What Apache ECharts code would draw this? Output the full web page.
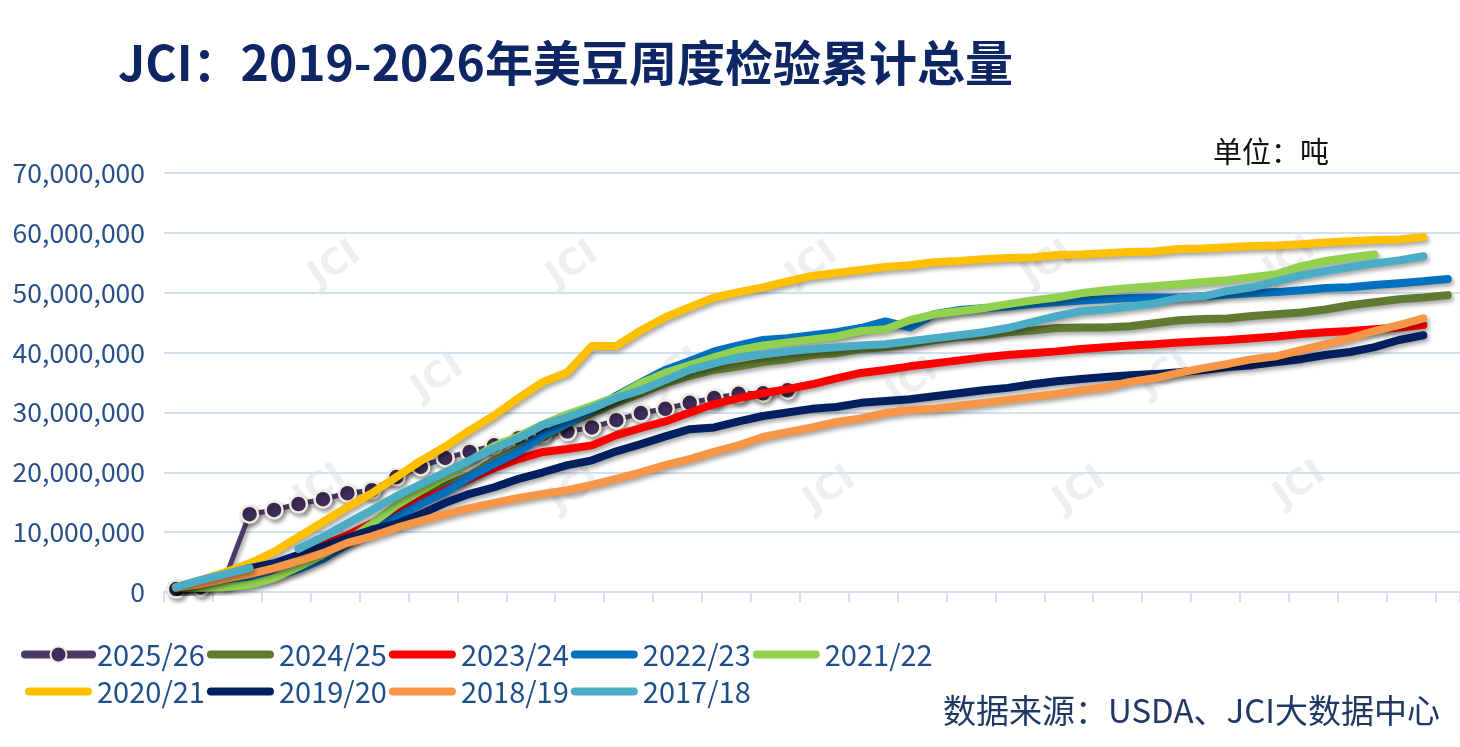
<!DOCTYPE html>
<html>
<head>
<meta charset="utf-8">
<script src="https://cdn.jsdelivr.net/npm/echarts@6/dist/echarts.min.js"></script>
<style>
html,body{margin:0;padding:0;background:#fff;}
#chart{width:1460px;height:747px;}
</style>
</head>
<body>
<div id="chart"></div>
<script>
// Week categories (marketing-year weeks)
const weeks = ['W1','W2','W3','W4','W5','W6','W7','W8','W9','W10','W11','W12','W13','W14','W15','W16','W17','W18','W19','W20','W21','W22','W23','W24','W25','W26','W27','W28','W29','W30','W31','W32','W33','W34','W35','W36','W37','W38','W39','W40','W41','W42','W43','W44','W45','W46','W47','W48','W49','W50','W51','W52','W53'];

// Cumulative inspections, million tonnes
const y2526 = [0.5,0.8,2.3,13.0,13.7,14.7,15.5,16.5,17.0,19.2,20.9,22.4,23.4,24.5,25.7,26.4,26.8,27.5,28.7,29.9,30.6,31.6,32.4,33.1,33.2,33.7,null,null,null,null,null,null,null,null,null,null,null,null,null,null,null,null,null,null,null,null,null,null,null,null,null,null,null];
const y2425 = [0.7,1.2,1.8,2.8,4.0,5.5,7.5,9.2,11.4,13.7,15.7,17.7,19.5,22.0,24.0,25.9,28.2,29.9,31.6,33.2,34.9,36.1,37.1,37.7,38.4,38.9,39.6,39.9,40.6,40.9,41.4,42.1,42.6,42.9,43.4,43.7,44.1,44.2,44.2,44.4,44.9,45.4,45.6,45.7,46.1,46.4,46.7,47.2,47.9,48.4,48.9,49.2,49.6];
const y2324 = [0.7,1.3,2.0,2.5,3.8,5.9,7.8,9.5,11.5,13.5,15.4,17.0,18.9,20.7,22.2,23.4,23.9,24.5,26.2,27.4,28.5,30.0,31.4,32.4,33.2,33.9,34.7,35.7,36.6,37.1,37.7,38.2,38.7,39.2,39.6,39.9,40.2,40.6,40.9,41.2,41.4,41.7,41.9,42.1,42.4,42.7,43.1,43.4,43.6,43.9,44.2,44.6,null];
const y2223 = [0.7,0.8,1.0,1.7,2.5,3.8,5.5,8.0,10.5,12.5,14.7,16.7,19.2,21.4,23.4,26.2,28.2,30.4,32.8,35.0,37.1,38.6,40.2,41.2,42.1,42.4,42.9,43.4,44.1,45.2,44.2,46.4,47.1,47.4,47.7,48.1,48.4,48.7,48.9,49.1,49.2,49.2,49.4,49.7,49.9,50.1,50.4,50.8,50.9,51.3,51.6,51.9,52.3];
const y2122 = [0.7,0.7,0.8,1.2,2.3,4.2,6.2,8.5,11.4,14.5,16.9,19.2,21.9,24.4,26.0,28.0,29.7,31.1,32.6,34.9,36.6,37.9,39.2,40.4,41.2,41.7,42.2,42.7,43.6,43.9,45.4,46.4,46.9,47.4,48.1,48.7,49.2,49.9,50.4,50.8,51.1,51.4,51.8,52.1,52.6,53.1,54.4,55.3,55.9,56.4,null,null,null];
const y2021 = [0.8,2.0,3.3,4.8,6.7,9.2,11.7,14.2,16.5,19.2,21.9,24.3,27.0,29.5,32.4,35.1,36.7,41.1,41.1,43.7,45.9,47.6,49.2,50.1,50.9,51.9,52.8,53.3,53.8,54.3,54.6,55.1,55.3,55.6,55.8,55.9,56.3,56.4,56.6,56.8,56.9,57.3,57.4,57.6,57.8,57.9,58.1,58.4,58.6,58.8,58.9,59.3,null];
const y1920 = [0.5,1.7,2.8,4.0,4.8,6.2,7.5,9.0,10.4,11.4,13.0,14.9,16.4,17.5,18.9,20.0,21.2,22.0,23.5,24.7,26.0,27.2,27.5,28.5,29.4,30.0,30.6,30.9,31.6,31.9,32.2,32.7,33.2,33.7,34.1,34.7,35.2,35.6,35.9,36.2,36.4,36.7,37.1,37.6,37.9,38.4,38.9,39.6,40.1,40.9,42.1,42.9,null];
const y1819 = [0.7,1.3,2.2,3.0,4.0,5.2,6.5,8.2,9.3,10.7,11.9,13.0,14.0,14.9,15.7,16.4,17.0,17.9,18.9,20.0,21.2,22.2,23.4,24.5,25.9,26.7,27.5,28.4,29.0,29.9,30.4,30.6,31.1,31.6,32.1,32.6,33.1,33.7,34.2,35.1,35.7,36.6,37.4,38.1,38.9,39.4,40.4,41.4,42.4,43.6,44.6,45.7,null];
const y1718 = [0.8,2.0,3.0,4.0,null,7.2,9.2,11.5,13.7,16.0,18.0,20.0,22.0,24.0,25.7,27.9,29.2,30.7,32.4,33.7,35.4,37.1,38.2,39.2,39.7,40.2,40.6,40.9,41.2,41.4,41.9,42.4,42.9,43.4,44.1,45.1,46.1,46.9,47.2,47.7,48.2,49.1,49.4,50.3,50.9,51.9,52.9,53.6,54.3,54.9,55.4,56.1,null];

// Y-axis ticks (million tonnes)
const yTicks = [0,10,20,30,40,50,60,70];

const seriesNames = ['2025/26','2024/25','2023/24','2022/23','2021/22','2020/21','2019/20','2018/19','2017/18'];
const seriesData = [y2526,y2425,y2324,y2223,y2122,y2021,y1920,y1819,y1718];
const seriesColors = ['#4B3A63','#617A31','#FF0000','#0070C0','#92D050','#FFC000','#002060','#F79646','#4BACC6'];

const FONT = '"Noto Sans CJK SC", "Noto Sans", sans-serif';
const SHADOW = { shadowColor: 'rgba(0,0,0,0.35)', shadowBlur: 4, shadowOffsetX: 2, shadowOffsetY: 3 };

const series = seriesNames.map((name, i) => {
  const isCur = i === 0;
  return {
    name: name,
    type: 'line',
    data: seriesData[i],
    connectNulls: false,
    smooth: false,
    symbol: isCur ? 'circle' : 'none',
    showSymbol: isCur,
    showAllSymbol: true,
    symbolSize: 17,
    lineStyle: Object.assign({
      color: seriesColors[i],
      width: isCur ? 5 : 8,
      cap: 'round',
      join: 'round'
    }, SHADOW),
    itemStyle: isCur ? Object.assign({
      color: '#3F2D5C',
      borderColor: '#EEEBDF',
      borderWidth: 2.5
    }, SHADOW) : { color: seriesColors[i] },
    emphasis: { disabled: true },
    z: 2 + i
  };
});

// Legend entries: current season shows line + marker, others a thick rounded bar
const BAR_ICON = 'path://M4,0 H63 A4,4 0 0 1 63,8 H4 A4,4 0 0 1 4,0 Z';
const legendData = seriesNames.map((name, i) => i === 0 ? {
  name: name,
  lineStyle: { width: 8, color: seriesColors[i], cap: 'round', shadowBlur: 0, shadowOffsetX: 0, shadowOffsetY: 0 },
  itemStyle: { color: '#3F2D5C', borderColor: '#EEEBDF', borderWidth: 2, shadowBlur: 0, shadowOffsetX: 0, shadowOffsetY: 0 }
} : {
  name: name,
  icon: BAR_ICON,
  itemStyle: { color: seriesColors[i], borderWidth: 0, shadowBlur: 0, shadowOffsetX: 0, shadowOffsetY: 0 }
});

const wmPositions = [
  [335,265],[573,265],[812,265],[1048,265],[1290,260],
  [438,378],[677,372],[913,382],[1165,375],
  [320,488],[575,490],[830,490],[1080,490],[1300,485]
];
const watermarks = wmPositions.map(p => ({
  type: 'text',
  x: p[0], y: p[1],
  rotation: 0.6,
  z: -10,
  silent: true,
  style: {
    text: 'JCI',
    align: 'center',
    verticalAlign: 'middle',
    font: 'bold 36px "DejaVu Sans", sans-serif',
    fill: 'rgba(160,160,160,0.18)'
  }
}));

const chart = echarts.init(document.getElementById('chart'), null, {renderer: 'canvas'});
chart.setOption({
  animation: false,
  backgroundColor: '#ffffff',
  grid: { left: 164, top: 173, width: 1299.6, bottom: 155, containLabel: false },
  xAxis: {
    type: 'category',
    data: weeks,
    boundaryGap: true,
    axisLine: { show: true, lineStyle: { color: '#D3E0F1', width: 2 } },
    axisTick: { show: true, length: 10, lineStyle: { color: '#D3E0F1', width: 2 } },
    axisLabel: { show: false },
    splitLine: { show: false }
  },
  yAxis: {
    type: 'value',
    min: yTicks[0],
    max: yTicks[yTicks.length - 1],
    interval: yTicks[1] - yTicks[0],
    axisLine: { show: false },
    axisTick: { show: false },
    axisLabel: {
      margin: 19,
      color: '#29508A',
      fontFamily: FONT,
      fontSize: 26.5,
      formatter: v => (v * 1000000).toLocaleString('en-US')
    },
    splitLine: { show: true, lineStyle: { color: '#D3E0F1', width: 2 } }
  },
  legend: {
    left: 21,
    top: 637,
    width: 960,
    padding: 0,
    itemGap: 2,
    itemWidth: 67,
    itemHeight: 20,
    data: legendData,
    textStyle: { color: '#1F4E8A', fontFamily: FONT, fontSize: 29, lineHeight: 35 }
  },
  graphic: watermarks.concat([
    {
      type: 'text', x: 118, y: 63, z: 10,
      style: { text: 'JCI：2019-2026年美豆周度检验累计总量', verticalAlign: 'middle',
        font: 'bold 48px "Noto Sans CJK SC", sans-serif', fill: '#0E2663' }
    },
    {
      type: 'text', x: 1213, y: 152, z: 10,
      style: { text: '单位：吨', verticalAlign: 'middle',
        font: '29px "Noto Sans CJK SC", sans-serif', fill: '#111111' }
    },
    {
      type: 'text', x: 943, y: 710, z: 10,
      style: { text: '数据来源：USDA、JCI大数据中心', verticalAlign: 'middle',
        font: '33px "Noto Sans CJK SC", sans-serif', fill: '#1F3864' }
    }
  ]),
  series: series
});
</script>
</body>
</html>
